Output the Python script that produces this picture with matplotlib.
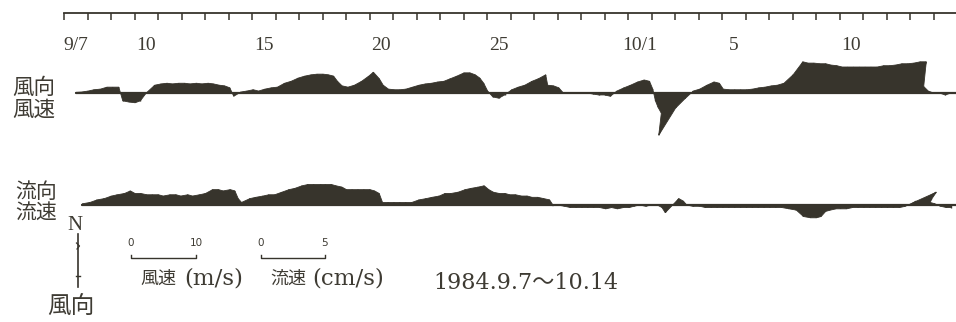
import numpy as np
import matplotlib
matplotlib.use('Agg')
import matplotlib.pyplot as plt
from matplotlib.collections import LineCollection

# Wind and current stick data, one value every 6 hours
# wind: m/s, starts 9/7 12h ; current: cm/s, starts 9/7 18h
wind_start = 0.5
wind_v = [
    0.1, 0.15,                  # 9/7
    0.3, 0.5, 0.6, 0.9,         # 9/8
    0.9, 0.9, -1.2, -1.4,       # 9/9
    -1.5, -1.2, 0.0, 1.2,       # 9/10
    1.4, 1.5, 1.4, 1.5,         # 9/11
    1.5, 1.4, 1.5, 1.4,         # 9/12
    1.5, 1.4, 1.2, 1.1,         # 9/13
    0.8, -0.5, 0.15, 0.3,       # 9/14
    0.5, 0.3, 0.6, 0.8,         # 9/15
    0.9, 1.5, 1.8, 2.3,         # 9/16
    2.6, 2.8, 2.9, 2.9,         # 9/17
    2.8, 2.6, 1.8, 1.1,         # 9/18
    0.9, 1.2, 1.8, 2.6,         # 9/19
    3.2, 2.2, 1.2, 0.6,         # 9/20
    0.5, 0.5, 0.6, 0.9,         # 9/21
    1.2, 1.4, 1.5, 1.7,         # 9/22
    1.8, 2.2, 2.6, 3.1,         # 9/23
    3.1, 2.8, 2.3, 1.5,         # 9/24
    0.3, -0.6, -0.8, -0.3,      # 9/25
    0.5, 0.9, 1.2, 1.8,         # 9/26
    2.2, 2.8, 1.2, 1.1,         # 9/27
    0.8, 0.0, 0.0, 0.0,         # 9/28
    0.0, 0.0, -0.15, -0.3,      # 9/29
    -0.3, -0.5, 0.3, 0.8,       # 9/30
    1.2, 1.7, 2.0, 1.8,         # 10/1
    0.6, -1.2, -2.2, -3.1,      # 10/2
    -6.5, -2.3, -0.9, 0.3,      # 10/3
    0.6, 1.2, 1.7, 1.5,         # 10/4
    0.6, 0.5, 0.5, 0.5,         # 10/5
    0.5, 0.6, 0.8, 0.9,         # 10/6
    1.1, 1.2, 1.5, 2.8,         # 10/7
    4.8, 4.6, 4.6, 4.5,         # 10/8
    4.5, 4.3, 4.2, 4.0,         # 10/9
    4.0, 4.0, 4.0, 4.0,         # 10/10
    4.0, 4.0, 4.2, 4.2,         # 10/11
    4.3, 4.5, 4.5, 4.6,         # 10/12
    4.8, 4.8, 1.0, 0.3,         # 10/13
    0.0, 0.0, -0.3, 0.0,        # 10/14
]
wind_u = [
    0.0, 0.0,
    0.1, 0.1, 0.2, 0.3,
    0.3, 0.3, 0.0, 0.1,
    0.1, 0.0, 0.0, 0.4,
    0.5, 0.5, 0.4, 0.5,
    0.5, 0.4, 0.5, 0.4,
    0.5, 0.4, 0.4, 0.3,
    0.2, -0.1, 0.1, 0.1,
    0.2, 0.1, 0.2, 0.3,
    0.3, 0.5, 0.6, 0.8,
    0.9, 1.0, 1.0, 1.0,
    0.9, 0.8, 0.5, 0.3,
    0.3, 0.4, 0.6, 0.8,
    0.6, 0.6, 0.3, 0.2,
    0.2, 0.2, 0.2, 0.3,
    0.4, 0.5, 0.5, 0.6,
    0.6, 0.7, 0.8, 1.0,
    1.0, 0.9, 0.7, 0.4,
    0.1, 0.0, 0.0, 0.0,
    0.2, 0.3, 0.4, 0.6,
    0.7, 0.9, 0.3, 0.3,
    0.2, 0.0, 0.0, 0.0,
    0.0, 0.0, 0.0, 0.0,
    0.0, 0.0, 0.1, 0.3,
    0.4, 0.6, 0.7, 0.6,
    0.2, -0.3, -0.8, -1.2,
    -2.5, -0.8, -0.3, 0.1,
    0.2, 0.4, 0.6, 0.5,
    0.2, 0.2, 0.2, 0.2,
    0.2, 0.2, 0.3, 0.3,
    0.4, 0.4, 0.5, 1.0,
    1.6, 1.5, 1.5, 1.5,
    1.5, 1.4, 1.4, 1.3,
    1.3, 1.3, 1.3, 1.3,
    1.3, 1.3, 1.4, 1.4,
    1.4, 1.5, 1.5, 1.5,
    1.6, 1.6, 0.3, 0.1,
    0.0, 0.0, 0.0, 0.0,
]

cur_start = 0.75
cur_v = [
    0.1,                        # 9/7
    0.2, 0.4, 0.5, 0.7,         # 9/8
    0.8, 0.9, 1.1, 0.9,         # 9/9
    0.9, 0.8, 0.8, 0.8,         # 9/10
    0.7, 0.8, 0.8, 0.7,         # 9/11
    0.8, 0.7, 0.8, 0.9,         # 9/12
    1.2, 1.2, 1.1, 1.2,         # 9/13
    1.1, 0.5, 0.2, 0.5,         # 9/14
    0.6, 0.7, 0.8, 0.8,         # 9/15
    1.0, 1.2, 1.3, 1.5,         # 9/16
    1.6, 1.6, 1.6, 1.6,         # 9/17
    1.6, 1.5, 1.4, 1.2,         # 9/18
    1.2, 1.2, 1.2, 1.2,         # 9/19
    1.1, 0.9, 0.2, 0.2,         # 9/20
    0.2, 0.2, 0.2, 0.2,         # 9/21
    0.4, 0.5, 0.6, 0.7,         # 9/22
    0.9, 0.9, 1.0, 1.2,         # 9/23
    1.3, 1.4, 1.5, 1.2,         # 9/24
    1.0, 0.9, 0.9, 0.8,         # 9/25
    0.8, 0.7, 0.7, 0.6,         # 9/26
    0.6, 0.5, 0.4, 0.0,         # 9/27
    0.0, -0.1, -0.2, -0.2,      # 9/28
    -0.2, -0.2, -0.2, -0.2,     # 9/29
    -0.3, -0.2, -0.3, -0.2,     # 9/30
    -0.2, -0.1, 0.0, -0.1,      # 10/1
    0.0, 0.0, -0.2, -0.6,       # 10/2
    0.5, 0.3, 0.0, -0.1,        # 10/3
    -0.1, -0.2, -0.2, -0.2,     # 10/4
    -0.2, -0.2, -0.2, -0.2,     # 10/5
    -0.2, -0.2, -0.2, -0.2,     # 10/6
    -0.2, -0.2, -0.2, -0.3,     # 10/7
    -0.4, -0.9, -1.0, -1.0,     # 10/8
    -0.9, -0.5, -0.4, -0.3,     # 10/9
    -0.3, -0.3, -0.2, -0.2,     # 10/10
    -0.2, -0.2, -0.2, -0.2,     # 10/11
    -0.2, -0.2, -0.2, -0.1,     # 10/12
    0.3, 1.0, 0.5, 0.2,         # 10/13
    0.1, -0.1, -0.2, -0.2,      # 10/14
]
cur_u = [
    0.1,
    0.2, 0.3, 0.4, 0.5,
    0.5, 0.6, 0.6, 0.5,
    0.5, 0.5, 0.5, 0.5,
    0.4, 0.5, 0.5, 0.4,
    0.5, 0.4, 0.5, 0.5,
    0.6, 0.6, 0.5, 0.6,
    0.5, 0.3, 0.1, 0.3,
    0.3, 0.4, 0.4, 0.4,
    0.5, 0.6, 0.6, 0.7,
    0.7, 0.7, 0.8, 0.7,
    0.7, 0.6, 0.6, 0.5,
    0.5, 0.5, 0.5, 0.5,
    0.4, 0.3, 0.1, 0.1,
    0.1, 0.1, 0.1, 0.1,
    0.2, 0.3, 0.3, 0.4,
    0.4, 0.4, 0.5, 0.6,
    0.6, 0.7, 0.7, 0.6,
    0.5, 0.5, 0.5, 0.4,
    0.4, 0.4, 0.4, 0.3,
    0.3, 0.3, 0.3, 0.1,
    0.0, 0.1, 0.1, 0.1,
    0.1, 0.1, 0.1, 0.1,
    0.1, 0.1, 0.1, 0.1,
    0.1, 0.0, 0.0, 0.0,
    0.0, 0.0, -0.1, -0.3,
    0.3, 0.2, 0.0, 0.0,
    0.1, 0.1, 0.1, 0.1,
    0.1, 0.1, 0.1, 0.1,
    0.1, 0.1, 0.1, 0.1,
    0.1, 0.1, 0.1, 0.2,
    0.3, 0.4, 0.5, 0.5,
    0.4, 0.3, 0.2, 0.2,
    0.1, 0.1, 0.1, 0.1,
    0.1, 0.1, 0.1, 0.1,
    0.1, 0.1, 0.1, 0.1,
    0.5, 1.6, 0.8, 0.2,
    0.1, 0.1, 0.1, 0.0,
]

# time axis: one tick per day from 9/7 to 10/14
n_days = 38
tick_labels = ['9/7', '10', '15', '20', '25', '10/1', '5', '10']
tick_label_days = [0, 3, 8, 13, 18, 24, 28, 33]

# scale bars
wind_bar = 10     # m/s
cur_bar = 5       # cm/s

ink = '#37342c'
txt = '#3e3b33'
serif = ['Liberation Serif', 'Noto Sans CJK JP']
wide_serif = ['DejaVu Serif', 'Noto Sans CJK JP']
cjk = ['Noto Sans CJK JP']

W, H = 956, 322
PXD = 23.5                    # pixels per day
k_wind = 6.5 / PXD            # day-units per m/s
k_cur = 12.8 / PXD            # day-units per cm/s


def X(px):
    return (px - 64) / PXD


def Y(py):
    return (H - py) / PXD


fig = plt.figure(figsize=(W / 100, H / 100), dpi=100)
fig.patch.set_facecolor('white')
ax = fig.add_axes([0, 0, 1, 1])
ax.set_xlim(X(0), X(W))
ax.set_ylim(0, Y(0))
ax.axis('off')


def stick_plot(t0, u, v, k, y0):
    u = np.asarray(u, float)
    v = np.asarray(v, float)
    t = t0 + 0.25 * np.arange(len(v))
    tx = t + u * k
    ty = y0 + v * k
    ax.fill(np.r_[t[0], tx, t[-1]], np.r_[y0, ty, y0], color=ink, lw=0.6)
    segs = [[(a, y0), (b, c)] for a, b, c in zip(t, tx, ty)]
    ax.add_collection(LineCollection(segs, colors=ink, linewidths=1.0))
    ax.plot([t[0], t[-1] + 0.2], [y0, y0], color=ink, lw=1.6, solid_capstyle='round')


stick_plot(wind_start, wind_u, wind_v, k_wind, Y(93))
stick_plot(cur_start, cur_u, cur_v, k_cur, Y(205))

# time axis on top
axt = fig.add_axes([0, 1 - 31 / H, 1, 18 / H])
axt.set_xlim(X(0), X(W))
for s in ['left', 'right', 'bottom']:
    axt.spines[s].set_visible(False)
axt.spines['top'].set_bounds(0, X(W))
axt.spines['top'].set_color(ink)
axt.spines['top'].set_linewidth(1.3)
axt.set_yticks([])
axt.set_xticks(np.arange(n_days))
axt.set_xticks(np.array(tick_label_days) + 0.5, labels=tick_labels, minor=True)
axt.tick_params(which='major', top=True, bottom=False, labeltop=False, labelbottom=False,
                direction='in', length=5, width=1.1, color=ink)
axt.tick_params(which='minor', top=False, bottom=True, labelbottom=True, length=0, pad=4,
                labelsize=14, labelcolor=txt)
for lab in axt.get_xticklabels(minor=True):
    lab.set_family(serif)
axt.patch.set_alpha(0)

# left labels
ax.text(X(12), Y(98.5), '風向\n風速', family=cjk, fontsize=15.5, color=txt,
        ha='left', va='center', linespacing=1.0)
ax.text(X(15), Y(203), '流向\n流速', family=cjk, fontsize=15, color=txt,
        ha='left', va='center', linespacing=1.0)

# north arrow
ax.text(X(75), Y(225), 'N', family=serif, fontsize=15, color=txt, ha='center', va='center')
ax.plot([X(78), X(78)], [Y(234), Y(287)], color=ink, lw=1.2)
ax.plot([X(76), X(80)], [Y(276), Y(276)], color=ink, lw=1.0)
ax.plot([X(76.5), X(79.5), X(77)], [Y(243), Y(246), Y(249)], color=ink, lw=0.9)
ax.text(X(47), Y(307), '風向', family=cjk, fontsize=17, color=txt, ha='left', va='center')

# scale bars
for x0, val, k in [(131, wind_bar, k_wind), (261, cur_bar, k_cur)]:
    xa, xb = X(x0), X(x0) + val * k
    ya = Y(258)
    ax.plot([xa, xa, xb, xb], [ya + 3 / PXD, ya, ya, ya + 3 / PXD], color=ink, lw=1.0)
    ax.text(xa, Y(243), '0', fontsize=7.5, color=txt, ha='center', va='center')
    ax.text(xb, Y(243), str(val), fontsize=7.5, color=txt, ha='center', va='center')

# legend texts: CJK part and unit part
ax.text(X(140), Y(279), '風速', family=cjk, fontsize=13, color=txt, ha='left', va='center')
ax.text(X(184), Y(279), '(m/s)', family=wide_serif, fontsize=16.5, color=txt,
        ha='left', va='center')
ax.text(X(270), Y(279), '流速', family=cjk, fontsize=13, color=txt, ha='left', va='center')
ax.text(X(312), Y(279), '(cm/s)', family=wide_serif, fontsize=16.5, color=txt,
        ha='left', va='center')
ax.text(X(433), Y(283), '1984.9.7～10.14', family=wide_serif, fontsize=16, color=txt,
        ha='left', va='center')

fig.savefig('out.png', dpi=100, facecolor='white')
